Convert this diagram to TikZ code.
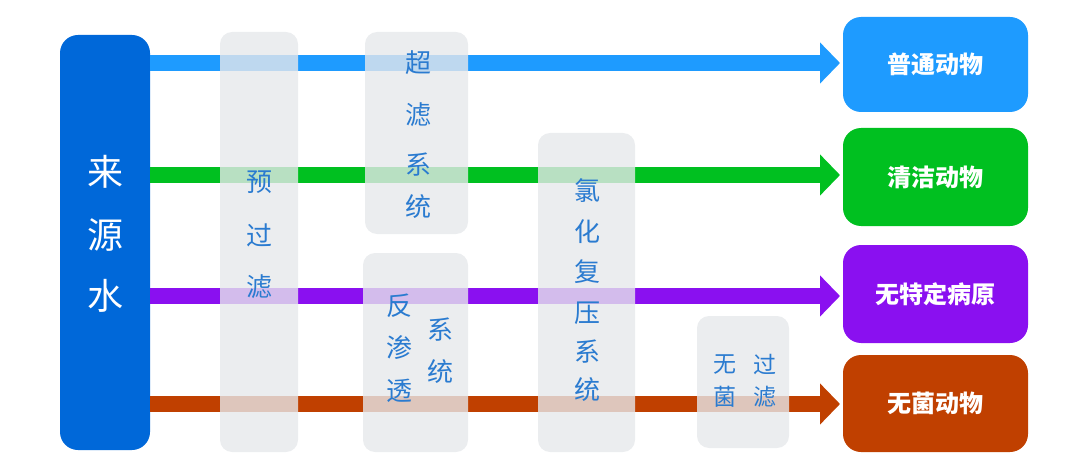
\documentclass[tikz,border=0pt]{standalone}
\usepackage{fontspec}
\setmainfont{Noto Sans CJK SC}
\usetikzlibrary{arrows.meta}
\definecolor{srcblue}{HTML}{0068D9}
\definecolor{cblue}{HTML}{1E9BFF}
\definecolor{cgreen}{HTML}{00C020}
\definecolor{cpurple}{HTML}{8A10F0}
\definecolor{corange}{HTML}{C04000}
\definecolor{gtext}{HTML}{2A7BD0}
\definecolor{gbox}{HTML}{E6E8EB}
\tikzset{
 flow/.style={line width=16pt,-{Triangle[length=20pt,width=40pt]}},
 dest/.style={rounded corners=18pt,minimum width=185pt,inner sep=0pt,text=white,font=\fontsize{24}{26}\selectfont\bfseries},
 proc/.style={fill=gbox,fill opacity=0.8,rounded corners=12pt},
 ptxt/.style={text=gtext,font=\fontsize{26}{28}\selectfont,inner sep=0pt},
 stxt/.style={text=gtext,font=\fontsize{23}{25}\selectfont,inner sep=0pt}
}
\begin{document}
\begin{tikzpicture}[x=1pt,y=-1pt]
\useasboundingbox (0,0) rectangle (1083,473);
\fill[srcblue,rounded corners=18pt] (60,35) rectangle (150,450);
\node[text=white,font=\fontsize{36}{38}\selectfont,inner sep=0pt] (src) at (105,235) {};
\foreach \c/\yy in {来/172,源/235,水/296}
  \node[text=white,font=\fontsize{36}{38}\selectfont,inner sep=0pt] at (105,\yy) {\c};
\node[dest,fill=cblue,minimum height=95pt] (d1) at (935.5,64.5) {普通动物};
\node[dest,fill=cgreen,minimum height=98pt] (d2) at (935.5,177) {清洁动物};
\node[dest,fill=cpurple,minimum height=98pt] (d3) at (935.5,294) {无特定病原};
\node[dest,fill=corange,minimum height=97pt] (d4) at (935.5,403.5) {无菌动物};
\coordinate (s1) at (150,63); \coordinate (e1) at (840,63);
\coordinate (s2) at (150,175); \coordinate (e2) at (840,175);
\coordinate (s3) at (150,296); \coordinate (e3) at (840,296);
\coordinate (s4) at (150,404); \coordinate (e4) at (840,404);
\draw[flow,cblue] (s1) -- (e1);
\draw[flow,cgreen] (s2) -- (e2);
\draw[flow,cpurple] (s3) -- (e3);
\draw[flow,corange] (s4) -- (e4);
\fill[proc] (220,32) rectangle (298,452);
\fill[proc] (365,32) rectangle (468,234);
\fill[proc] (363,253) rectangle (468,452);
\fill[proc] (538,133) rectangle (635,452);
\fill[proc] (697,316) rectangle (789,448);
\foreach \c/\yy in {预/182,过/235,滤/287} \node[ptxt] at (259,\yy) {\c};
\foreach \c/\yy in {超/63,滤/115,系/165,统/207} \node[ptxt] at (418,\yy) {\c};
\foreach \c/\yy in {反/306,渗/348,透/391} \node[ptxt] at (399,\yy) {\c};
\foreach \c/\yy in {系/330,统/372} \node[ptxt] at (440,\yy) {\c};
\foreach \c/\yy in {氯/191,化/232,复/272,压/313,系/352,统/390} \node[ptxt] at (587,\yy) {\c};
\foreach \c/\yy in {无/365,菌/397} \node[stxt] at (725,\yy) {\c};
\foreach \c/\yy in {过/365,滤/397} \node[stxt] at (765,\yy) {\c};
\end{tikzpicture}
\end{document}
